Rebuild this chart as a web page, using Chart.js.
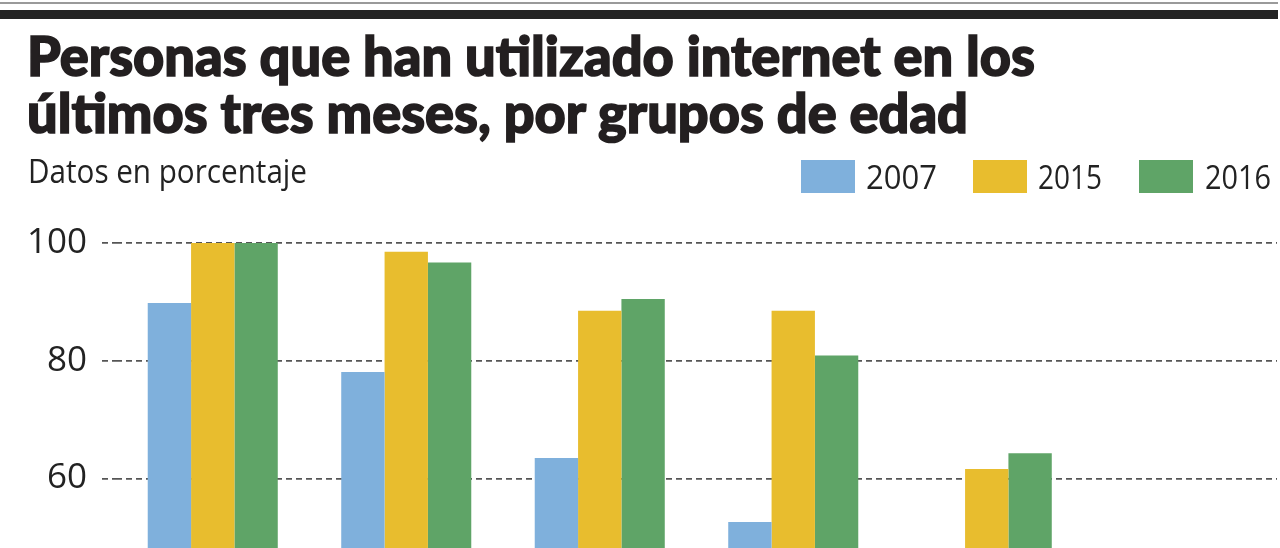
<!DOCTYPE html>
<html lang="es">
<head>
<meta charset="utf-8">
<title>Personas que han utilizado internet en los últimos tres meses, por grupos de edad</title>
<script src="https://cdn.jsdelivr.net/npm/chart.js@4.4.1/dist/chart.umd.min.js"></script>
<style>
  html, body { margin: 0; padding: 0; width: 1280px; height: 548px; overflow: hidden; background: #fff; }
  #wrap { position: relative; width: 1280px; height: 548px; }
  #chart { position: absolute; left: 0; top: 0; }
  .rule-thin { position: absolute; left: 0; top: 2px; width: 1278px; height: 2px; background: #9a9a9a; }
  .rule-thick { position: absolute; left: 0; top: 10px; width: 1278px; height: 9px; background: #232323; }
  .title { position: absolute; left: 27px; font-family: Lato, "Open Sans", sans-serif; font-weight: 900;
           font-size: 56px; line-height: 56px; color: #231f20; white-space: nowrap; transform-origin: 0 0;
           -webkit-text-stroke: 1.6px #231f20; }
  #t1 { top: 27px; }
  #t2 { top: 84px; }
  #sub { position: absolute; left: 28px; top: 151px; font-family: "Open Sans", Lato, sans-serif; font-weight: 400;
         font-size: 33px; line-height: 40px; color: #222; white-space: nowrap; transform-origin: 0 0; }
  #legend { position: absolute; top: 160px; left: 0; width: 1280px; height: 34px; }
  .lg-box { position: absolute; top: 0; width: 54px; height: 33px; }
  .lg-txt { position: absolute; top: -3px; font-family: "Open Sans", Lato, sans-serif; font-size: 32px; line-height: 40px;
            color: #222; white-space: nowrap; transform-origin: 0 0; }
</style>
</head>
<body>
<div id="wrap">
  <canvas id="chart" width="1280" height="548"></canvas>
  <div class="rule-thin"></div>
  <div class="rule-thick"></div>
  <div class="title" id="t1">Personas que han utilizado internet en los</div>
  <div class="title" id="t2">últimos tres meses, por grupos de edad</div>
  <div id="sub">Datos en porcentaje</div>
  <div id="legend"></div>
</div>
<script>
// ---- data (the chart is cropped below ~48 %) ----
const categories = ['16-24', '25-34', '35-44', '45-54', '55-64', '65-74'];
const seriesNames = ['2007', '2015', '2016'];
const values2007 = [89.8, 78.1, 63.5, 52.6, 22, 6];
const values2015 = [100, 98.5, 88.5, 88.5, 61.6, 32];
const values2016 = [100, 96.7, 90.5, 80.9, 64.3, 35];
const yTickValues = [60, 80, 100];

const colors = ['#7fb0dc', '#e8bd2e', '#5fa467'];
const seriesValues = [values2007, values2015, values2016];

// fit HTML text to measured widths in the reference
function fitWidth(el, target) {
  const w = el.getBoundingClientRect().width;
  if (w > 0) el.style.transform = 'scaleX(' + (target / w) + ')';
}

// legend (HTML, built from the series arrays)
const legendBoxX = [801, 973, 1139];
const legendTxtX = [866, 1038, 1205];
const legendTxtW = [71, 64, 66];
const legend = document.getElementById('legend');
seriesNames.forEach((name, i) => {
  const b = document.createElement('div');
  b.className = 'lg-box';
  b.style.left = legendBoxX[i] + 'px';
  b.style.background = colors[i];
  legend.appendChild(b);
  const t = document.createElement('div');
  t.className = 'lg-txt';
  t.style.left = legendTxtX[i] + 'px';
  t.textContent = name;
  legend.appendChild(t);
  fitWidth(t, legendTxtW[i]);
});

fitWidth(document.getElementById('t1'), 1008);
fitWidth(document.getElementById('t2'), 941);
fitWidth(document.getElementById('sub'), 279);

new Chart(document.getElementById('chart'), {
  type: 'bar',
  data: {
    labels: categories,
    datasets: seriesNames.map((name, i) => ({
      label: name,
      data: seriesValues[i],
      backgroundColor: colors[i],
      borderWidth: 0,
      barPercentage: 1.0,
      categoryPercentage: 0.672
    }))
  },
  options: {
    responsive: false,
    devicePixelRatio: 1,
    animation: false,
    layout: { padding: { top: 243, right: 3, bottom: 0, left: 0 } },
    plugins: {
      legend: { display: false },
      title: { display: false },
      tooltip: { enabled: false }
    },
    scales: {
      x: {
        display: false,
        grid: { display: false }
      },
      y: {
        min: 48.2,
        max: 100,
        afterFit: (scale) => {
          scale.width = 116;
          scale.paddingTop = 0;
          scale.paddingBottom = 0;
        },
        afterBuildTicks: (scale) => {
          scale.ticks = scale.ticks.filter(t => yTickValues.includes(t.value));
        },
        ticks: {
          stepSize: 20,
          includeBounds: false,
          padding: 15,
          color: '#222',
          font: { family: '"Open Sans", Lato, sans-serif', size: 35, weight: '400' }
        },
        grid: {
          color: '#555555',
          lineWidth: 1.8,
          drawTicks: true,
          tickLength: 14,
          tickColor: '#555555',
          tickWidth: 1.8,
          tickBorderDash: [6, 4]
        },
        border: { display: false, dash: [6, 4] }
      }
    }
  }
});
</script>
</body>
</html>
